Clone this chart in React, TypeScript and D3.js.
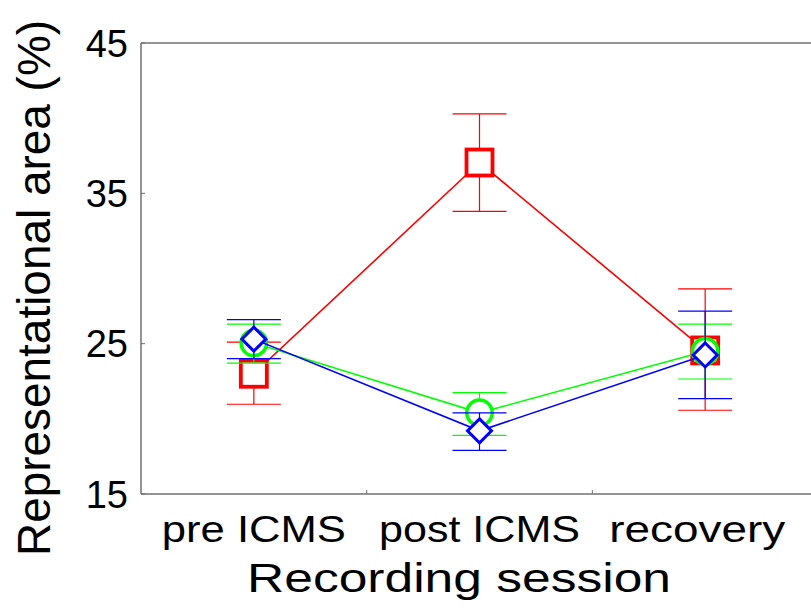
import React from "react";
import * as d3 from "d3";

// recording sessions
const sessions = ["pre ICMS", "post ICMS", "recovery"];
const yTicks = [15, 25, 35, 45];

// red squares
const redMean = [23.0, 37.05, 24.55];
const redUpper = [25.1, 40.28, 28.64];
const redLower = [20.97, 33.8, 20.57];

// green circles
const greenMean = [25.05, 20.4, 24.5];
const greenUpper = [26.3, 21.75, 26.3];
const greenLower = [23.7, 18.9, 22.65];

// blue diamonds
const blueMean = [25.3, 19.2, 24.25];
const blueUpper = [26.6, 20.4, 27.16];
const blueLower = [24.0, 17.9, 21.34];

const W = 811;
const H = 611;
const left = 141;
const right = 818; // right border falls outside the picture
const top = 43;
const bottom = 494;

const series = [
  { name: "red", color: "#ff0000", shape: "square", mean: redMean, upper: redUpper, lower: redLower },
  { name: "green", color: "#00ff00", shape: "circle", mean: greenMean, upper: greenUpper, lower: greenLower },
  { name: "blue", color: "#0000ff", shape: "diamond", mean: blueMean, upper: blueUpper, lower: blueLower },
];

const labelWidths = [184, 201, 176];

export default function App() {
  const x = d3.scaleBand<string>().domain(sessions).range([left, right]);
  const y = d3.scaleLinear().domain([15, 45]).range([bottom, top]);
  const cx = (i: number) => (x(sessions[i]) as number) + x.bandwidth() / 2;

  const line = d3
    .line<number>()
    .x((_, i) => cx(i))
    .y((d) => y(d));

  const axisColor = "#707070";
  const font = "'Liberation Sans', Arial, Helvetica, sans-serif";

  const marker = (shape: string, color: string, px: number, py: number, key: string) => {
    if (shape === "square") {
      const s = 26;
      return <rect key={key} x={px - s / 2} y={py - s / 2} width={s} height={s} fill="#fff" stroke={color} strokeWidth={3.8} />;
    }
    if (shape === "circle") {
      return <circle key={key} cx={px} cy={py} r={12.7} fill="#fff" stroke={color} strokeWidth={3.5} />;
    }
    const r = 12;
    const pts = [[px, py - r], [px + r, py], [px, py + r], [px - r, py]].map((p) => p.join(",")).join(" ");
    return <polygon key={key} points={pts} fill="#fff" stroke={color} strokeWidth={3} />;
  };

  return (
    <div style={{ position: "absolute", left: 0, top: 0 }}>
      <svg width={W} height={H} style={{ display: "block", background: "#fff" }}>
        {/* axes box */}
        <line x1={left} x2={W} y1={top} y2={top} stroke={axisColor} strokeWidth={1.5} />
        <line x1={left} x2={W} y1={bottom} y2={bottom} stroke={axisColor} strokeWidth={1.5} />
        <line x1={left} x2={left} y1={top} y2={bottom} stroke={axisColor} strokeWidth={1.5} />

        {/* y ticks */}
        {yTicks.map((t) => (
          <g key={t}>
            <line x1={left} x2={left + 4} y1={y(t)} y2={y(t)} stroke={axisColor} strokeWidth={1} />
            <text
              x={128}
              y={y(t) + 13.5}
              textAnchor="end"
              fontFamily={font}
              fontSize={38}
              fill="#000"
            >
              {t}
            </text>
          </g>
        ))}

        {/* x ticks at session boundaries */}
        {sessions.slice(1).map((s) => (
          <line
            key={s}
            x1={x(s) as number}
            x2={x(s) as number}
            y1={bottom}
            y2={bottom - 4}
            stroke={axisColor}
            strokeWidth={1}
          />
        ))}

        {sessions.map((s, i) => (
          <text
            key={s}
            x={cx(i) - (i === 2 ? 8 : 0)}
            y={541.5}
            textAnchor="middle"
            fontFamily={font}
            fontSize={37.5}
            textLength={labelWidths[i]}
            lengthAdjust="spacingAndGlyphs"
            fill="#000"
          >
            {s}
          </text>
        ))}

        {/* data */}
        {series.map((sr) => (
          <g key={sr.name}>
            <path d={line(sr.mean) ?? ""} fill="none" stroke={sr.color} strokeWidth={1.6} />
            {sr.mean.map((m, i) => (
              <g key={i}>
                <line x1={cx(i)} x2={cx(i)} y1={y(sr.upper[i])} y2={y(sr.lower[i])} stroke={sr.color} strokeWidth={1.2} />
                <line x1={cx(i) - 27} x2={cx(i) + 27} y1={y(sr.upper[i])} y2={y(sr.upper[i])} stroke={sr.color} strokeWidth={1.2} />
                <line x1={cx(i) - 27} x2={cx(i) + 27} y1={y(sr.lower[i])} y2={y(sr.lower[i])} stroke={sr.color} strokeWidth={1.2} />
              </g>
            ))}
            {sr.mean.map((m, i) => marker(sr.shape, sr.color, cx(i), y(m), `m${i}`))}
          </g>
        ))}

        {/* titles */}
        <text
          x={459}
          y={591.5}
          textAnchor="middle"
          fontFamily={font}
          fontSize={40.5}
          textLength={424}
          lengthAdjust="spacingAndGlyphs"
          fill="#000"
        >
          Recording session
        </text>
        <text
          transform={`translate(50,288) rotate(-90)`}
          textAnchor="middle"
          fontFamily={font}
          fontSize={47}
          textLength={536}
          lengthAdjust="spacingAndGlyphs"
          fill="#000"
        >
          Representational area (%)
        </text>
      </svg>
    </div>
  );
}
